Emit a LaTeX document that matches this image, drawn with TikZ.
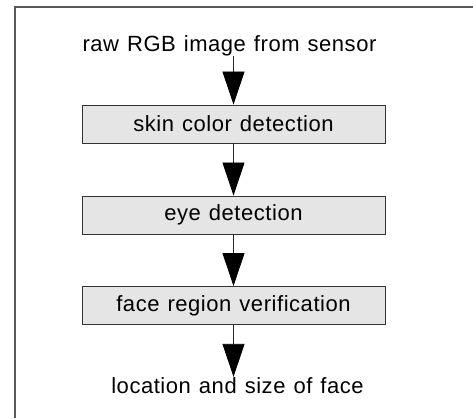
\documentclass[tikz,border=0pt]{standalone}
\usepackage{fontspec}
\setmainfont{Liberation Sans}[LetterSpace=2.5]
\usetikzlibrary{arrows.meta}
\tikzset{
  stagebox/.style={draw=black!80, line width=0.9pt, fill=black!10, minimum width=303pt, minimum height=38pt, inner sep=0pt, font=\fontsize{22pt}{25pt}\selectfont},
  label/.style={inner sep=0pt, font=\fontsize{22pt}{25pt}\selectfont},
  flow/.style={draw=black!85, line width=0.8pt, -{Triangle[length=33pt,width=22pt,fill=black,color=black]}},
  frameline/.style={draw=black!65, line width=1.6pt}
}
\begin{document}
\begin{tikzpicture}[x=1pt,y=-1pt]
\useasboundingbox (0,0) rectangle (473,418);
\coordinate (ftl) at (15,7);
\coordinate (ftr) at (473,7);
\coordinate (fbl) at (15,418);
\draw[frameline] (ftr) -- (ftl) -- (fbl);
\node[label, anchor=base] (src) at (229.5,51) {\spaceskip=8pt raw RGB image from sensor};
\node[stagebox] (skin) at (233.5,124) {\spaceskip=8pt skin color detection};
\node[stagebox] (eye) at (233.5,215) {\spaceskip=8pt eye detection};
\node[stagebox] (face) at (233.5,305.5) {\spaceskip=8pt face region verification};
\node[label, anchor=base] (out) at (237.5,393) {\spaceskip=8pt location and size of face};
\draw[flow] (src.south -| skin.north) -- (skin.north);
\draw[flow] (skin.south) -- (eye.north);
\draw[flow] (eye.south) -- (face.north);
\draw[flow] (face.south) -- (face.south |- out.north);
\end{tikzpicture}
\end{document}
